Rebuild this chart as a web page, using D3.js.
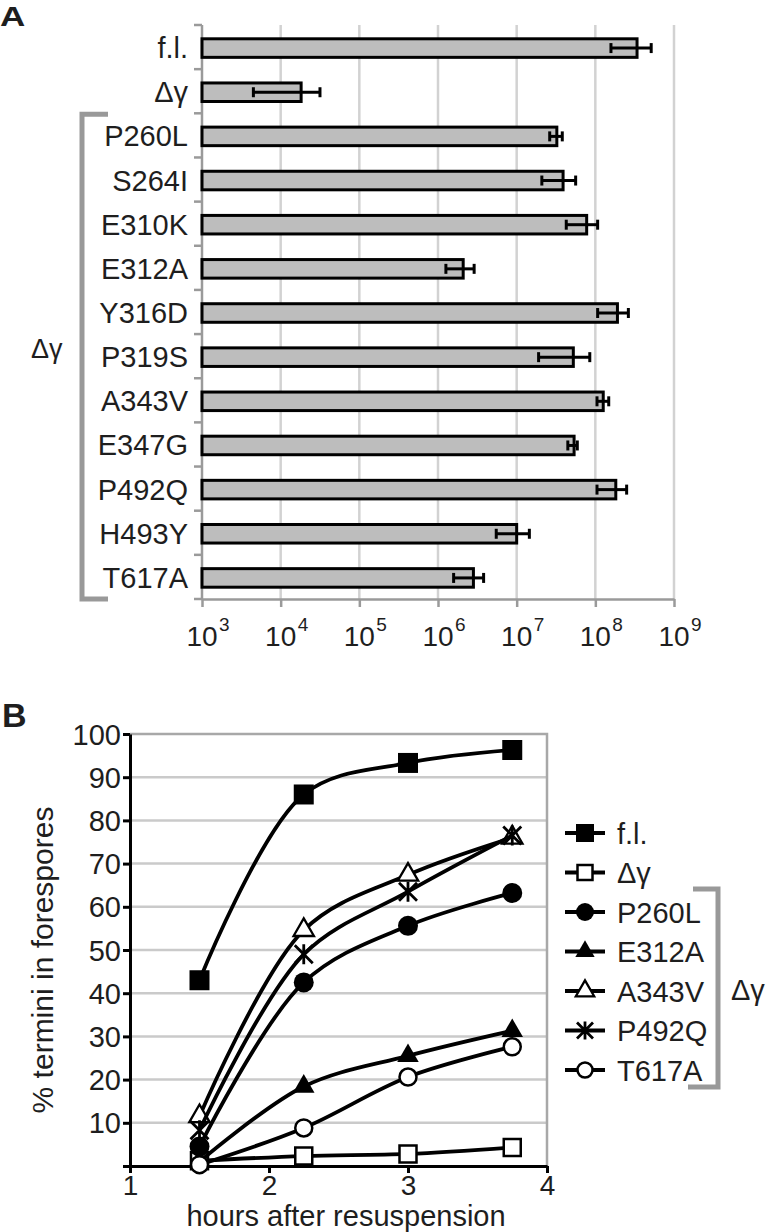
<!DOCTYPE html>
<html><head><meta charset="utf-8">
<script src="https://cdn.jsdelivr.net/npm/d3@7"></script>
<style>body{margin:0;background:#fff}svg{display:block}text{font-family:"Liberation Sans",Arial,sans-serif;fill:#1e1e1e}</style>
</head><body>
<svg id="c" width="767" height="1232"></svg>
<script>
// ---- Panel A data ----
const categories = ["f.l.","Δγ","P260L","S264I","E310K","E312A","Y316D","P319S","A343V","E347G","P492Q","H493Y","T617A"];
const values  = [3.39e8,1.82e4,3.24e7,3.89e7,7.76e7,2.09e6,1.91e8,5.25e7,1.26e8,5.37e7,1.82e8,1.0e7,2.82e6];
const errLow  = [1.58e8,4.5e3,2.63e7,2.09e7,4.27e7,1.26e6,1.07e8,1.9e7,1.05e8,4.47e7,1.05e8,5.5e6,1.58e6];
const errHigh = [5.13e8,3.16e4,3.8e7,5.62e7,1.07e8,2.88e6,2.63e8,8.5e7,1.48e8,5.9e7,2.5e8,1.45e7,3.8e6];
const xTicksA = [1e3,1e4,1e5,1e6,1e7,1e8,1e9];
const xTickExpA = ["3","4","5","6","7","8","9"];
// ---- Panel B data ----
const hours = [1.5,2.25,3,3.75];
const seriesNames = ["f.l.","Δγ","P260L","E312A","A343V","P492Q","T617A"];
const seriesMarkers = ["sq","osq","circ","tri","otri","star","ocirc"];
const fl    = [43,86,93.3,96.3];
const dg    = [1.2,2.3,2.8,4.3];
const p260l = [4.5,42.5,55.6,63.2];
const e312a = [1.0,18.4,25.5,31.3];
const a343v = [11.5,54.6,67.4,76];
const p492q = [8.3,49,63.5,76.5];
const t617a = [0.3,8.8,20.6,27.6];
const seriesValues = [fl,dg,p260l,e312a,a343v,p492q,t617a];
const yTicksB = [0,10,20,30,40,50,60,70,80,90,100];
const xTicksB = [1,2,3,4];

const svg = d3.select("#c");
function txt(g, x, y, s, size, anchor, opts={}) {
  const t = g.append("text").attr("transform", `translate(${x},${y})` + (opts.rot?` rotate(${opts.rot})`:"") + (opts.sx?` scale(${opts.sx},1)`:""))
    .attr("font-size", size).attr("text-anchor", anchor||"start").text(s);
  if (opts.bold) t.attr("font-weight","bold");
  return t;
}
// ================= Panel A =================
const A = svg.append("g");
const x = d3.scaleLog().domain([1e3,1e9]).range([202,674]);
const y = d3.scaleBand().domain(categories).range([25,599]).padding(0);
const barH = y.bandwidth()*0.42;
// gridlines
A.selectAll("line.grid").data(xTicksA.slice(1)).join("line")
  .attr("x1",d=>x(d)).attr("x2",d=>x(d)).attr("y1",25).attr("y2",599)
  .attr("stroke","#d2d2d2").attr("stroke-width",2.5);
// bottom axis
const ax = A.append("g").attr("transform","translate(0,599)")
  .call(d3.axisBottom(x).tickValues(xTicksA).tickSize(8).tickSizeOuter(0).tickFormat(()=>""));
ax.select(".domain").attr("stroke","#9a9a9a").attr("stroke-width",2.5);
ax.selectAll(".tick line").attr("stroke","#9a9a9a").attr("stroke-width",2.5);
xTicksA.forEach((d,i)=>{
  txt(A, x(d), 646, "10", 28, "middle");
  txt(A, x(d)+17, 631, xTickExpA[i], 19, "start");
});
// left axis
A.append("line").attr("x1",202).attr("x2",202).attr("y1",25).attr("y2",599).attr("stroke","#9a9a9a").attr("stroke-width",2.5);
const bounds = categories.map(c=>y(c)).concat([y.range()[1]]);
A.selectAll("line.yt").data(bounds).join("line")
  .attr("x1",194).attr("x2",202).attr("y1",d=>d).attr("y2",d=>d).attr("stroke","#9a9a9a").attr("stroke-width",2.5);
// bars
A.selectAll("rect.bar").data(categories).join("rect")
  .attr("x",x(1e3)).attr("y",c=>y(c)+(y.bandwidth()-barH)/2+1)
  .attr("width",(c,i)=>x(values[i])-x(1e3)).attr("height",barH)
  .attr("fill","#bdbdbd").attr("stroke","#000").attr("stroke-width",3);
// error bars
categories.forEach((c,i)=>{
  const cy = y(c)+y.bandwidth()/2+1;
  A.append("line").attr("x1",x(errLow[i])).attr("x2",x(errHigh[i])).attr("y1",cy).attr("y2",cy).attr("stroke","#000").attr("stroke-width",3);
  [errLow[i],errHigh[i]].forEach(v=>A.append("line").attr("x1",x(v)).attr("x2",x(v)).attr("y1",cy-5).attr("y2",cy+5).attr("stroke","#000").attr("stroke-width",3));
  txt(A, 188, y(c)+y.bandwidth()/2+11, c, 29, "end");
});
// bracket
A.append("path").attr("d",`M108,${y("P260L")+1}H82V599H108`).attr("fill","none").attr("stroke","#999").attr("stroke-width",5);
txt(A, 31, 358, "Δγ", 27, "start");
txt(A, 0, 26, "A", 28, "start", {bold:true, sx:1.25});

// ================= Panel B =================
const B = svg.append("g");
const xb = d3.scaleLinear().domain([1,4]).range([130,547]);
const yb = d3.scaleLinear().domain([0,100]).range([1166,734]);
B.selectAll("line.gb").data(yTicksB.slice(1,-1)).join("line")
  .attr("x1",130).attr("x2",547).attr("y1",d=>yb(d)).attr("y2",d=>yb(d)).attr("stroke","#cacaca").attr("stroke-width",2.5);
B.append("path").attr("d",`M130,${yb(100)}H547V${yb(0)}`).attr("fill","none").attr("stroke","#a8a8a8").attr("stroke-width",2.5);
const axb = B.append("g").attr("transform",`translate(0,${yb(0)})`)
  .call(d3.axisBottom(xb).tickValues(xTicksB).tickSize(7).tickSizeOuter(0).tickFormat(d3.format("d")));
axb.select(".domain").attr("stroke","#000").attr("stroke-width",3);
axb.selectAll(".tick line").attr("stroke","#000").attr("stroke-width",3);
axb.selectAll(".tick text").attr("font-size",28).attr("fill","#1e1e1e").attr("y",9).attr("dy","0.71em").attr("font-family","Liberation Sans, Arial");
const ayb = B.append("g").attr("transform","translate(130,0)")
  .call(d3.axisLeft(yb).tickValues(yTicksB).tickSize(7).tickSizeOuter(0).tickFormat(d=>d===0?"":d));
ayb.select(".domain").attr("stroke","#000").attr("stroke-width",3);
ayb.selectAll(".tick line").attr("stroke","#000").attr("stroke-width",3);
ayb.selectAll(".tick text").attr("font-size",29).attr("fill","#1e1e1e").attr("x",-9).attr("dy","0.35em").attr("font-family","Liberation Sans, Arial");
txt(B, 346, 1226, "hours after resuspension", 29, "middle");
txt(B, 53, 960, "% termini in forespores", 30, "middle", {rot:-90});
txt(B, 2, 727, "B", 34, "start", {bold:true});

function marker(g, type, cx, cy, s) {
  const sym = d3.symbol();
  if (type==="sq") g.append("path").attr("d",sym.type(d3.symbolSquare).size(s*s)()).attr("transform",`translate(${cx},${cy})`).attr("fill","#000");
  if (type==="osq") g.append("path").attr("d",sym.type(d3.symbolSquare).size((s-3)*(s-3))()).attr("transform",`translate(${cx},${cy})`).attr("fill","#fff").attr("stroke","#000").attr("stroke-width",2.5);
  if (type==="circ") g.append("circle").attr("cx",cx).attr("cy",cy).attr("r",s/2).attr("fill","#000");
  if (type==="ocirc") g.append("circle").attr("cx",cx).attr("cy",cy).attr("r",s/2-1.5).attr("fill","#fff").attr("stroke","#000").attr("stroke-width",2.5);
  if (type==="tri") g.append("path").attr("d",sym.type(d3.symbolTriangle).size(s*s*0.5)()).attr("transform",`translate(${cx},${cy})`).attr("fill","#000");
  if (type==="otri") g.append("path").attr("d",sym.type(d3.symbolTriangle).size(s*s*0.45)()).attr("transform",`translate(${cx},${cy})`).attr("fill","#fff").attr("stroke","#000").attr("stroke-width",2.3);
  if (type==="star") { const h=s/2-1; g.append("path").attr("d",`M${cx-h},${cy-h}L${cx+h},${cy+h}M${cx+h},${cy-h}L${cx-h},${cy+h}M${cx},${cy-h-1}V${cy+h+1}`).attr("stroke","#000").attr("stroke-width",2.8).attr("fill","none"); }
}
const line = d3.line().x((d,i)=>xb(hours[i])).y(d=>yb(d)).curve(d3.curveCatmullRom.alpha(0.5));
seriesValues.forEach((vals,k)=>{
  const g = B.append("g");
  g.append("path").attr("d",line(vals)).attr("fill","none").attr("stroke","#000").attr("stroke-width",3.8);
  vals.forEach((v,i)=>marker(g, seriesMarkers[k], xb(hours[i]), yb(v), 20));
});
// legend
seriesNames.forEach((n,k)=>{
  const ly = 833 + k*39.5;
  B.append("line").attr("x1",565).attr("x2",605).attr("y1",ly).attr("y2",ly).attr("stroke","#000").attr("stroke-width",3.8);
  marker(B, seriesMarkers[k], 585, ly, 18);
  txt(B, 617, ly+10.5, n, 29, "start");
});
B.append("path").attr("d","M693,889H718V1087H688").attr("fill","none").attr("stroke","#999").attr("stroke-width",5);
txt(B, 731, 1000, "Δγ", 29, "start");
</script>
</body></html>
